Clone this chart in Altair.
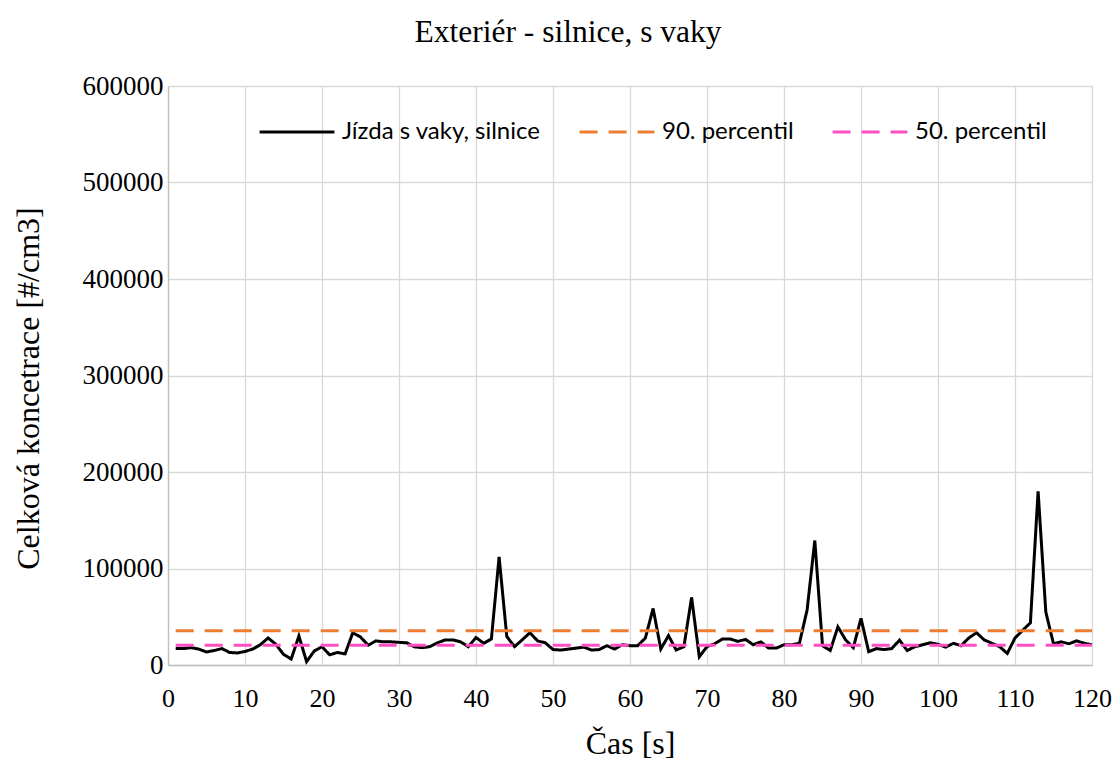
import altair as alt
import pandas as pd

time_s = list(range(1, 121))
concentration = [
    17200, 17000, 18000, 16500, 13500, 15000, 17000, 13000, 12500, 14000,
    16500, 21000, 28000, 21500, 11000, 6200, 30000, 3500, 14500, 19000,
    10500, 13000, 11500, 33500, 29000, 20500, 25000, 24000, 24000, 23500,
    23000, 18800, 18000, 19000, 23000, 26000, 26000, 24000, 19000, 28500,
    22500, 27000, 112000, 29500, 19000, 26000, 33500, 25000, 23000, 16000,
    15500, 16500, 17500, 18500, 15500, 16000, 20000, 16500, 21000, 20000,
    20000, 28000, 58600, 16500, 30500, 15500, 19000, 70000, 8500, 19000,
    22000, 27000, 27000, 24500, 26500, 21000, 24000, 17500, 17500, 21000,
    21000, 22500, 57000, 129000, 20000, 15000, 39500, 26000, 18000, 48300,
    13800, 17000, 16000, 17000, 25800, 15000, 19000, 21000, 23000, 21500,
    18500, 22500, 20000, 28000, 33500, 26000, 22500, 19000, 12000, 28000,
    36000, 43700, 180000, 55000, 22000, 24000, 22000, 25000, 22500, 21000,
]
p90_value = 35500
p50_value = 20500

series_names = ["Jízda s vaky, silnice", "90. percentil", "50. percentil"]
series_colors = ["#000000", "#ED7D31", "#FF4DC4"]
series_dashes = [[1, 0], [18, 11], [18, 11]]

x_ticks = list(range(0, 121, 10))
y_ticks = list(range(0, 600001, 100000))

rows = []
for t, v in zip(time_s, concentration):
    rows.append({"serie": series_names[0], "t": t, "v": v})
for t in time_s:
    rows.append({"serie": series_names[1], "t": t, "v": p90_value})
for t in time_s:
    rows.append({"serie": series_names[2], "t": t, "v": p50_value})
df = pd.DataFrame(rows)

SERIF = "Liberation Serif"

legend_cfg = dict(
    title=None,
    orient="none",
    legendX=90,
    legendY=7,
    direction="horizontal",
    symbolType="stroke",
    symbolSize=5600,
    symbolStrokeWidth=3,
    labelFont="Lato",
    labelFontSize=24,
    labelColor="#000000",
    labelOffset=6,
    labelLimit=400,
    columnPadding=32,
    padding=0,
)

chart = (
    alt.Chart(df)
    .mark_line(strokeWidth=3)
    .encode(
        x=alt.X(
            "t:Q",
            scale=alt.Scale(domain=[0, 120], nice=False),
            axis=alt.Axis(
                values=x_ticks,
                title="Čas [s]",
                labelFont=SERIF,
                labelFontSize=26,
                labelColor="#000000",
                labelPadding=20,
                titleFont=SERIF,
                titleFontSize=32,
                titleFontWeight="normal",
                titleColor="#000000",
                titleBaseline="alphabetic",
                titleY=88,
                grid=True,
                gridColor="#d9d9d9",
                gridWidth=1.3,
                domainColor="#bfbfbf",
                domainWidth=1.3,
                ticks=False,
                labelFlush=False,
            ),
        ),
        y=alt.Y(
            "v:Q",
            scale=alt.Scale(domain=[0, 600000], nice=False),
            axis=alt.Axis(
                values=y_ticks,
                format="d",
                title="Celková koncetrace [#/cm3]",
                labelFont=SERIF,
                labelFontSize=27,
                labelColor="#000000",
                labelPadding=5,
                titleFont=SERIF,
                titleFontSize=32,
                titleFontWeight="normal",
                titleColor="#000000",
                titleBaseline="middle",
                titleX=-140,
                titleY=302,
                grid=True,
                gridColor="#d9d9d9",
                gridWidth=1.3,
                domainColor="#bfbfbf",
                domainWidth=1.3,
                ticks=False,
                labelFlush=False,
            ),
        ),
        color=alt.Color(
            "serie:N",
            scale=alt.Scale(domain=series_names, range=series_colors),
            sort=series_names,
            legend=alt.Legend(**legend_cfg),
        ),
        strokeDash=alt.StrokeDash(
            "serie:N",
            scale=alt.Scale(domain=series_names, range=series_dashes),
            sort=series_names,
            legend=alt.Legend(**legend_cfg),
        ),
    )
    .properties(
        width=924,
        height=579,
        padding={"left": 160, "top": 78, "right": 20, "bottom": 95},
        autosize=alt.AutoSizeParams(type="none"),
        title=alt.TitleParams(
            "Exteriér - silnice, s vaky",
            font=SERIF,
            fontSize=31.5,
            fontWeight="normal",
            color="#000000",
            anchor="middle",
            baseline="alphabetic",
            offset=0,
            dy=1,
            dx=-62,
        ),
    )
    .configure_view(stroke=None)
    .configure(background="#ffffff")
)

chart.save("out.html", embed_options={"renderer": "svg", "actions": False})
